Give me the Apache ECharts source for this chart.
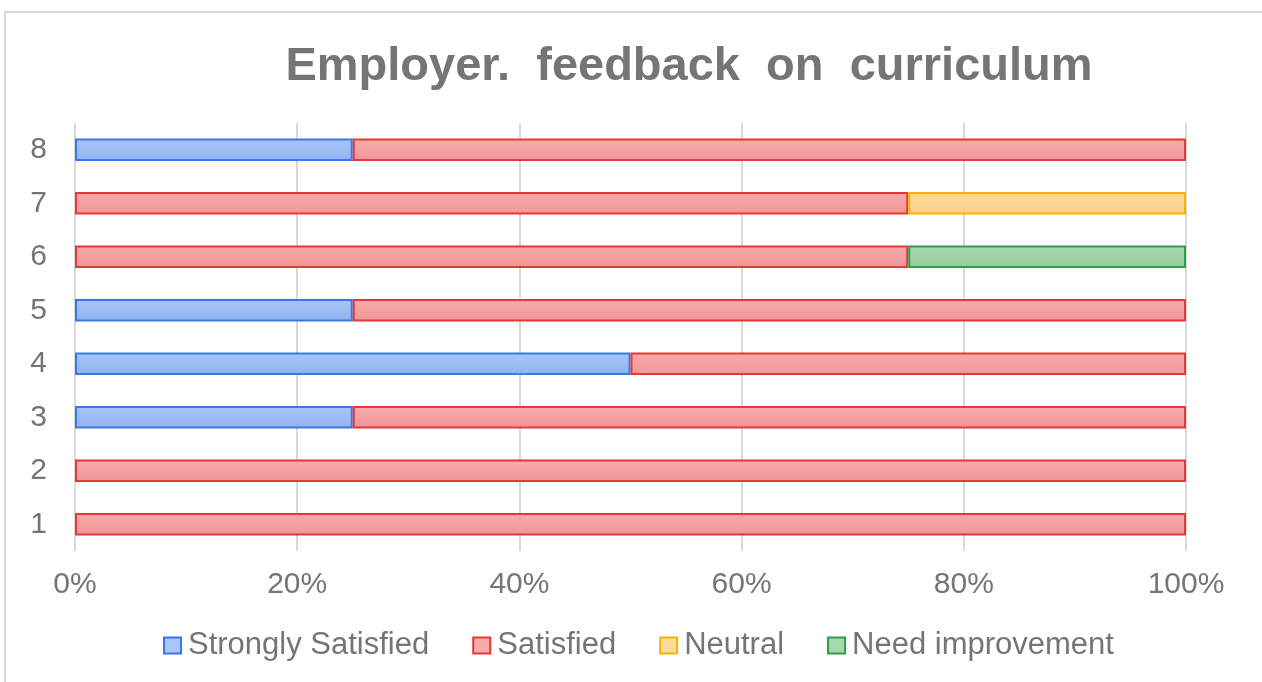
<!DOCTYPE html>
<html><head><meta charset="utf-8">
<script src="https://cdn.jsdelivr.net/npm/echarts@6/dist/echarts.min.js"></script>
<style>html,body{margin:0;padding:0;background:#fff}#c{width:1262px;height:682px}</style>
</head><body><div id="c"></div>
<script>
const categories = ['1','2','3','4','5','6','7','8'];
const stronglySatisfied = [0, 0, 25, 50, 25, 0, 0, 25];
const satisfied = [100, 100, 75, 50, 75, 75, 75, 75];
const neutral = [0, 0, 0, 0, 0, 0, 25, 0];
const needImprovement = [0, 0, 0, 0, 0, 25, 0, 0];
const xTicks = ['0%','20%','40%','60%','80%','100%'];
const titleText = 'Employer.  feedback  on  curriculum';

const defs = [
  {name:'Strongly Satisfied', data:stronglySatisfied, top:'#a9c6f7', bot:'#8fb2f0', border:'#3b78e7'},
  {name:'Satisfied', data:satisfied, top:'#f7abab', bot:'#f09696', border:'#e53935'},
  {name:'Neutral', data:neutral, top:'#fddb9c', bot:'#fcd088', border:'#f4b400'},
  {name:'Need improvement', data:needImprovement, top:'#a8d9ae', bot:'#93cd9b', border:'#2e9e48'}
];
const font = '"Liberation Sans", Arial, sans-serif';
const chart = echarts.init(document.getElementById('c'));
chart.setOption({
  animation:false,
  textStyle:{fontFamily:font},
  graphic:[
    {type:'rect', shape:{x:5,y:12,width:1300,height:720}, style:{fill:'none', stroke:'#d6d6d6', lineWidth:2}, z:-1},
    {type:'text', x:689, y:67, style:{text:titleText, fontFamily:font, fontSize:47, fontWeight:'bold',
      fill:'#757575', align:'center', verticalAlign:'middle'}}
  ],
  legend:{top:625, left:158, itemWidth:17, itemHeight:16, itemGap:43, icon:'rect',
    textStyle:{fontSize:31, color:'#757575', padding:[0,0,0,2]},
    data: defs.map(d=>({name:d.name, itemStyle:{color:d.top, borderColor:d.border, borderWidth:2}}))},
  grid:{left:75, right:76, top:123, bottom:131},
  xAxis:{type:'value', min:0, max:100, interval:20,
    axisLine:{show:false}, axisTick:{show:false},
    splitLine:{lineStyle:{color:'#d9d9d9', width:2}},
    axisLabel:{fontSize:30, color:'#757575', margin:19, formatter:v=>xTicks[v/20]}},
  yAxis:{type:'category', data:categories,
    axisLine:{show:false}, axisTick:{show:false},
    axisLabel:{fontSize:30, color:'#757575', margin:28}},
  series: defs.map(d=>({
    name:d.name, type:'bar', stack:'total', barWidth:'42%',
    data:d.data.map(v=>v===0?null:v),
    itemStyle:{borderColor:d.border, borderWidth:2,
      color:new echarts.graphic.LinearGradient(0,0,0,1,[{offset:0,color:d.top},{offset:1,color:d.bot}])}
  }))
});
</script></body></html>
